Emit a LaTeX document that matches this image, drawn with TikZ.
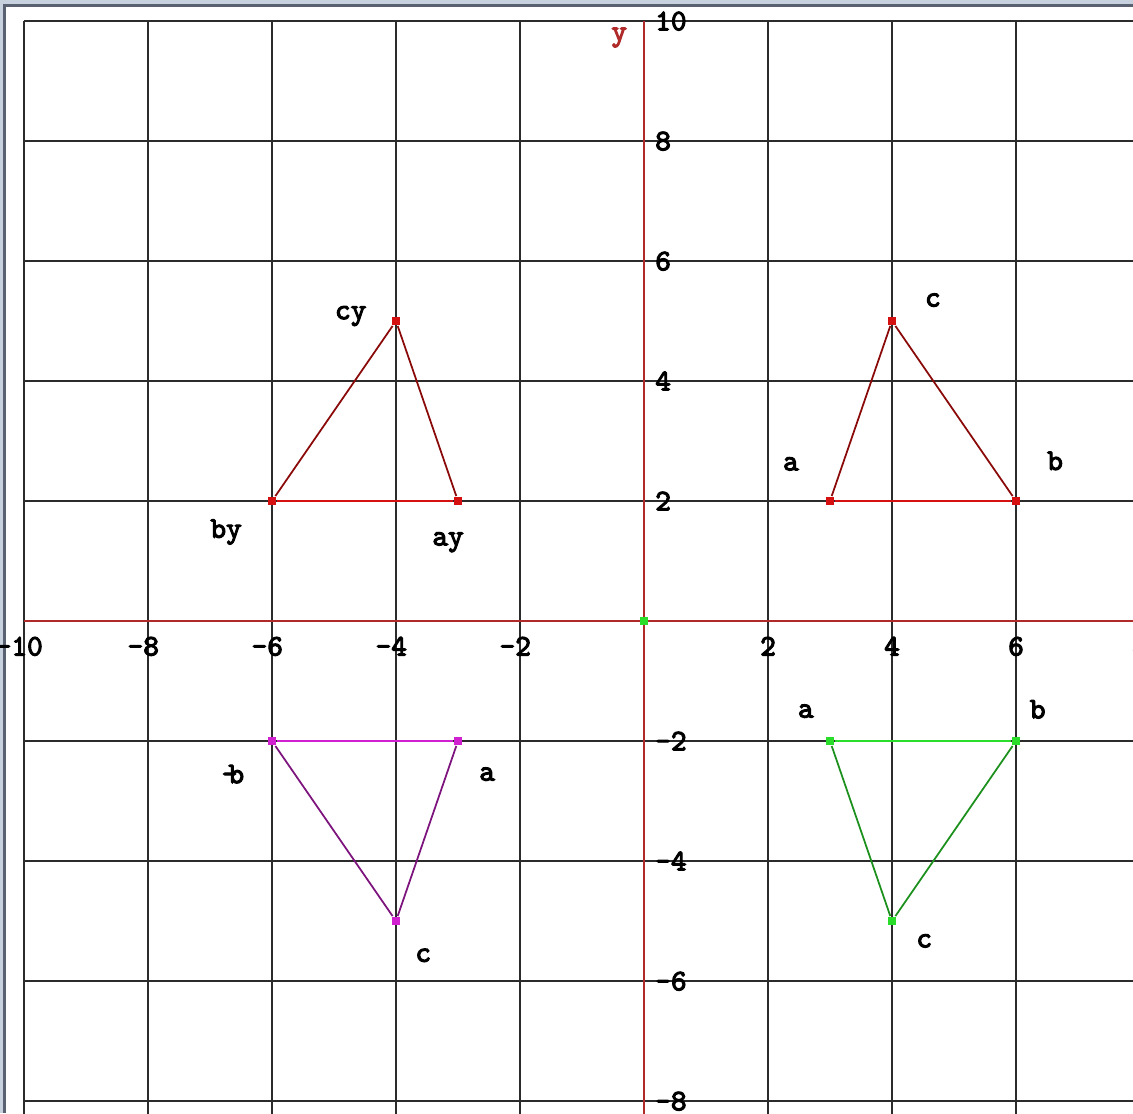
\documentclass[tikz,border=0pt]{standalone}
\usepackage{fontspec}
\newfontfamily\pixfont{lmmono10-regular.otf}[FakeBold=3.5]
\definecolor{gridgray}{HTML}{2B2B2B}
\definecolor{axisred}{HTML}{B02A2A}
\definecolor{ptred}{HTML}{D41010}
\definecolor{ptmag}{HTML}{D020D0}
\definecolor{ptgreen}{HTML}{2BDD2B}
\definecolor{framelt}{HTML}{C8D2DE}
\definecolor{framedk}{HTML}{5A6272}

\tikzset{
  lbl/.style={font=\pixfont\fontsize{8.5}{9}\selectfont, inner sep=0pt, text depth=0pt},
  vert/.style={fill=#1, inner sep=0pt, minimum size=0.085cm},
  base/.style={#1, line width=0.6pt},
  side/.style={#1, line width=0.5pt},
}

\begin{document}
\begin{tikzpicture}[x=0.62cm,y=0.6cm]
  \useasboundingbox (-10.387,-8.2) rectangle (7.887,10.35);
  \clip (-10.387,-8.2) rectangle (7.887,10.35);
  \fill[framelt] (-10.387,-8.2) rectangle (-10.339,10.35);
  \fill[framedk] (-10.339,-8.2) rectangle (-10.29,10.233);
  \fill[framelt] (-10.387,10.283) rectangle (7.887,10.35);
  \fill[framedk] (-10.339,10.233) rectangle (7.887,10.283);
  \foreach \x in {-10,-8,...,8}
    \draw[gridgray, line width=0.6pt] (\x,10) -- (\x,-8.3);
  \foreach \y in {10,8,...,-8}
    \draw[gridgray, line width=0.6pt] (-10,\y) -- (8,\y);
  \draw[axisred, line width=0.5pt] (-10,0) -- (8,0);
  \draw[axisred, line width=0.5pt] (0,10) -- (0,-8.3);
  \node[lbl, text=axisred] (ylab) at (-0.40,9.78) {y};
  \foreach \x in {2,4,6,8}
    \node[lbl] (xt\x) at (\x,-0.42) {\x};
  \foreach \x in {2,4,6,8,10}
    \node[lbl] (xtm\x) at (-\x+0.05,-0.42) {\llap{-}\x};
  \foreach \y in {-8,-6,-4,-2,2,4,6,8,10}
    \node[lbl, anchor=west] (yt\y) at (0.17,\y) {\y};
  \node[vert=ptgreen] (o) at (0,0) {};

  \node[vert=ptred] (ra) at (3,2) {};
  \node[vert=ptred] (rb) at (6,2) {};
  \node[vert=ptred] (rc) at (4,5) {};
  \draw[base=ptred] (ra) -- (rb);
  \draw[side=ptred!65!black] (rb) -- (rc) -- (ra);
  \node[lbl] (la) at (2.37,2.62) {a};
  \node[lbl] (lb) at (6.63,2.67) {b};
  \node[lbl] (lc) at (4.66,5.35) {c};

  \node[vert=ptred] (ya) at (-3,2) {};
  \node[vert=ptred] (yb) at (-6,2) {};
  \node[vert=ptred] (yc) at (-4,5) {};
  \draw[base=ptred] (ya) -- (yb);
  \draw[side=ptred!65!black] (yb) -- (yc) -- (ya);
  \node[lbl] (lay) at (-3.16,1.37) {ay};
  \node[lbl] (lby) at (-6.74,1.54) {by};
  \node[lbl] (lcy) at (-4.73,5.14) {cy};

  \node[vert=ptmag] (ma) at (-3,-2) {};
  \node[vert=ptmag] (mb) at (-6,-2) {};
  \node[vert=ptmag] (mc) at (-4,-5) {};
  \draw[base=ptmag] (ma) -- (mb);
  \draw[side=ptmag!60!black] (mb) -- (mc) -- (ma);
  \node[lbl] (lma) at (-2.53,-2.55) {a};
  \node[lbl] (lmb) at (-6.63,-2.55) {-\kern-0.3em b};
  \node[lbl] (lmc) at (-3.56,-5.57) {c};

  \node[vert=ptgreen] (ga) at (3,-2) {};
  \node[vert=ptgreen] (gb) at (6,-2) {};
  \node[vert=ptgreen] (gc) at (4,-5) {};
  \draw[base=ptgreen] (ga) -- (gb);
  \draw[side=ptgreen!65!black] (gb) -- (gc) -- (ga);
  \node[lbl] (lga) at (2.61,-1.5) {a};
  \node[lbl] (lgb) at (6.35,-1.47) {b};
  \node[lbl] (lgc) at (4.52,-5.33) {c};
\end{tikzpicture}
\end{document}
